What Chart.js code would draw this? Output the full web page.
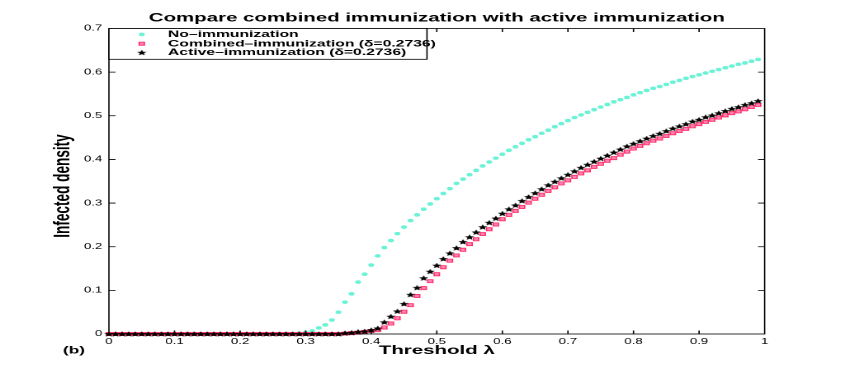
<!DOCTYPE html>
<html><head><meta charset="utf-8">
<script src="https://cdn.jsdelivr.net/npm/chart.js@4.4.0/dist/chart.umd.min.js"></script>
<style>
html,body{margin:0;padding:0;background:#fff;overflow:hidden;width:845px;height:376px;}
#wrap{position:absolute;left:0;top:0;width:512px;height:376px;transform:scaleX(1.6504);transform-origin:0 0;}
</style></head><body>
<div id="wrap"><canvas id="c" width="512" height="376"></canvas></div>
<script>
const lambda = [0.00,0.01,0.02,0.03,0.04,0.05,0.06,0.07,0.08,0.09,
0.10,0.11,0.12,0.13,0.14,0.15,0.16,0.17,0.18,0.19,
0.20,0.21,0.22,0.23,0.24,0.25,0.26,0.27,0.28,0.29,
0.30,0.31,0.32,0.33,0.34,0.35,0.36,0.37,0.38,0.39,
0.40,0.41,0.42,0.43,0.44,0.45,0.46,0.47,0.48,0.49,
0.50,0.51,0.52,0.53,0.54,0.55,0.56,0.57,0.58,0.59,
0.60,0.61,0.62,0.63,0.64,0.65,0.66,0.67,0.68,0.69,
0.70,0.71,0.72,0.73,0.74,0.75,0.76,0.77,0.78,0.79,
0.80,0.81,0.82,0.83,0.84,0.85,0.86,0.87,0.88,0.89,
0.90,0.91,0.92,0.93,0.94,0.95,0.96,0.97,0.98,0.99];

const noImmunization = [0,0,0,0,0,0,0,0,0,0,
0,0,0,0,0,0,0,0,0,0,
0,0,0,0,0,0,0,0,0,0.002,
0.004,0.007,0.014,0.021,0.032,0.050,0.073,0.092,0.119,0.137,
0.158,0.179,0.198,0.214,0.230,0.245,0.260,0.273,0.286,0.298,
0.310,0.322,0.333,0.345,0.355,0.365,0.375,0.385,0.394,0.403,
0.412,0.421,0.429,0.437,0.445,0.452,0.460,0.467,0.475,0.482,
0.489,0.496,0.502,0.508,0.514,0.520,0.526,0.532,0.537,0.542,
0.548,0.553,0.558,0.563,0.567,0.572,0.577,0.581,0.586,0.590,
0.594,0.598,0.602,0.606,0.610,0.614,0.618,0.621,0.625,0.629];

const combinedImmunization = [0,0,0,0,0,0,0,0,0,0,
0,0,0,0,0,0,0,0,0,0,
0,0,0,0,0,0,0,0,0,0,
0,0,0,0,0,0,0.001,0.002,0.003,0.005,
0.007,0.009,0.015,0.024,0.036,0.051,0.066,0.087,0.105,0.121,
0.137,0.153,0.168,0.180,0.193,0.206,0.217,0.229,0.240,0.251,
0.263,0.273,0.282,0.291,0.301,0.310,0.319,0.328,0.336,0.345,
0.352,0.360,0.368,0.375,0.383,0.390,0.397,0.403,0.411,0.418,
0.425,0.431,0.437,0.443,0.448,0.454,0.460,0.465,0.470,0.476,
0.481,0.486,0.491,0.496,0.501,0.506,0.510,0.515,0.520,0.525];

const activeImmunization = [0,0,0,0,0,0,0,0,0,0,
0,0,0,0,0,0,0,0,0,0,
0,0,0,0,0,0,0,0,0,0,
0,0,0,0,0,0,0.002,0.003,0.005,0.006,
0.009,0.013,0.027,0.040,0.052,0.069,0.090,0.106,0.128,0.143,
0.157,0.172,0.185,0.197,0.211,0.222,0.233,0.245,0.255,0.265,
0.276,0.286,0.295,0.305,0.314,0.323,0.332,0.341,0.349,0.357,
0.365,0.373,0.381,0.388,0.395,0.402,0.409,0.416,0.423,0.430,
0.436,0.442,0.448,0.454,0.459,0.465,0.471,0.476,0.481,0.487,
0.491,0.497,0.501,0.506,0.511,0.516,0.520,0.525,0.529,0.534];

const xTickLabels = ['0','0.1','0.2','0.3','0.4','0.5','0.6','0.7','0.8','0.9','1'];
const yTickLabels = ['0','0.1','0.2','0.3','0.4','0.5','0.6','0.7'];
const seriesNames = ['No\u2013immunization','Combined\u2013immunization (\u03b4=0.2736)','Active\u2013immunization (\u03b4=0.2736)'];
const titleText = 'Compare combined immunization with active immunization';
const xTitle = 'Threshold \u03bb';
const yTitle = 'Infected density';
const panelTag = '(b)';

const CYAN = '#6cf2d6', SQ_FILL = '#ff7fbf', SQ_EDGE = '#ff2f5f';
const FONT = '"Liberation Sans", Arial, Helvetica, sans-serif';

function makeStar(size){
  const k = 8, c = document.createElement('canvas');
  c.width = c.height = size*k;
  const g = c.getContext('2d');
  const R = size*k/2, r = R*0.45, cx = R, cy = R*1.08;
  g.beginPath();
  for (let i=0;i<10;i++){
    const a = -Math.PI/2 + i*Math.PI/5, rr = (i%2)? r : R;
    g.lineTo(cx+rr*Math.cos(a), cy+rr*Math.sin(a));
  }
  g.closePath(); g.fillStyle='#000'; g.fill();
  const img = new Image(); img.width = size; img.height = size;
  img.src = c.toDataURL();
  return img;
}
const starImg = makeStar(6);

function pts(vals){ return lambda.map((l,i)=>({x:l, y:vals[i]})); }

const decor = {
  id:'decor',
  afterDraw(chart){
    const {ctx, chartArea:a, scales:{x, y}} = chart;
    ctx.save();
    ctx.strokeStyle = '#000'; ctx.lineWidth = 0.8;
    ctx.strokeRect(a.left, a.top, a.right-a.left, a.bottom-a.top);
    ctx.beginPath();
    xTickLabels.forEach((t,i)=>{
      if (i===0 || i===xTickLabels.length-1) return;
      const px = x.getPixelForValue(Number(t));
      ctx.moveTo(px, a.bottom); ctx.lineTo(px, a.bottom-3.5);
      ctx.moveTo(px, a.top); ctx.lineTo(px, a.top+3.5);
    });
    yTickLabels.forEach((t,i)=>{
      if (i===0 || i===yTickLabels.length-1) return;
      const py = y.getPixelForValue(Number(t));
      ctx.moveTo(a.left, py); ctx.lineTo(a.left+4, py);
      ctx.moveTo(a.right, py); ctx.lineTo(a.right-4, py);
    });
    ctx.stroke();

    // legend
    const lx0 = a.left, ly0 = a.top, lx1 = 258.7, ly1 = 59.3;
    ctx.fillStyle = '#fff';
    ctx.fillRect(lx0, ly0, lx1-lx0, ly1-ly0);
    ctx.strokeRect(lx0, ly0, lx1-lx0, ly1-ly0);
    const rows = [34.4, 43.7, 52.6], mx = 85.9, tx = 101.8;
    ctx.fillStyle = CYAN; ctx.beginPath(); ctx.arc(mx, rows[0], 1.8, 0, Math.PI*2); ctx.fill();
    ctx.fillStyle = SQ_FILL; ctx.strokeStyle = SQ_EDGE; ctx.lineWidth = 0.8;
    ctx.fillRect(mx-1.6, rows[1]-1.6, 3.2, 3.2); ctx.strokeRect(mx-1.6, rows[1]-1.6, 3.2, 3.2);
    ctx.drawImage(starImg, mx-3, rows[2]-3, 6, 6);
    ctx.fillStyle = '#000';
    ctx.font = 'bold 9.5px ' + FONT;
    ctx.textBaseline = 'middle'; ctx.textAlign = 'left';
    seriesNames.forEach((s,i)=> ctx.fillText(s, tx, rows[i]));

    // title and labels
    const cx = (a.left + a.right)/2;
    ctx.font = 'bold 12.4px ' + FONT; ctx.textAlign = 'center';
    ctx.fillText(titleText, cx, 18.3);
    ctx.fillText(xTitle, cx, 350.7);
    ctx.font = 'bold 10.5px ' + FONT;
    ctx.fillText(panelTag, 44.8, 350.7);
    ctx.save();
    ctx.translate(38, 186);
    ctx.rotate(-Math.PI/2);
    ctx.font = 'bold 13.6px ' + FONT;
    ctx.fillText(yTitle, 0, 0);
    ctx.restore();
    ctx.restore();
  }
};

function build(){
  new Chart(document.getElementById('c'), {
    type:'scatter',
    data:{ datasets:[
      {label:seriesNames[2], data:pts(activeImmunization), pointStyle:starImg, order:0, clip:false},
      {label:seriesNames[1], data:pts(combinedImmunization), pointStyle:'rect', pointRadius:2.25, backgroundColor:SQ_FILL, borderColor:SQ_EDGE, borderWidth:0.8, order:1, clip:false},
      {label:seriesNames[0], data:pts(noImmunization), pointStyle:'circle', pointRadius:1.8, backgroundColor:CYAN, borderWidth:0, order:2, clip:false}
    ]},
    options:{
      responsive:false, animation:false, devicePixelRatio:2,
      layout:{padding:{top:28.5, right:48.7, left:0, bottom:0}},
      plugins:{legend:{display:false}, title:{display:false}, tooltip:{enabled:false}},
      elements:{point:{hoverRadius:0}},
      scales:{
        x:{type:'linear', min:0, max:1,
           grid:{display:false, drawTicks:false}, border:{display:false},
           ticks:{stepSize:0.1, autoSkip:false, maxRotation:0, padding:3, color:'#000',
                  font:{family:FONT, size:8}, callback:(v,i)=>xTickLabels[i]},
           afterFit:(s)=>{ s.height = 42; }},
        y:{type:'linear', min:0, max:0.7,
           grid:{display:false, drawTicks:false}, border:{display:false},
           ticks:{stepSize:0.1, autoSkip:false, padding:4, color:'#000',
                  font:{family:FONT, size:8}, callback:(v,i)=>yTickLabels[i]},
           afterFit:(s)=>{ s.width = 66; }}
      }
    },
    plugins:[decor]
  });
}
if (starImg.complete) build(); else starImg.onload = build;
</script>
</body></html>
